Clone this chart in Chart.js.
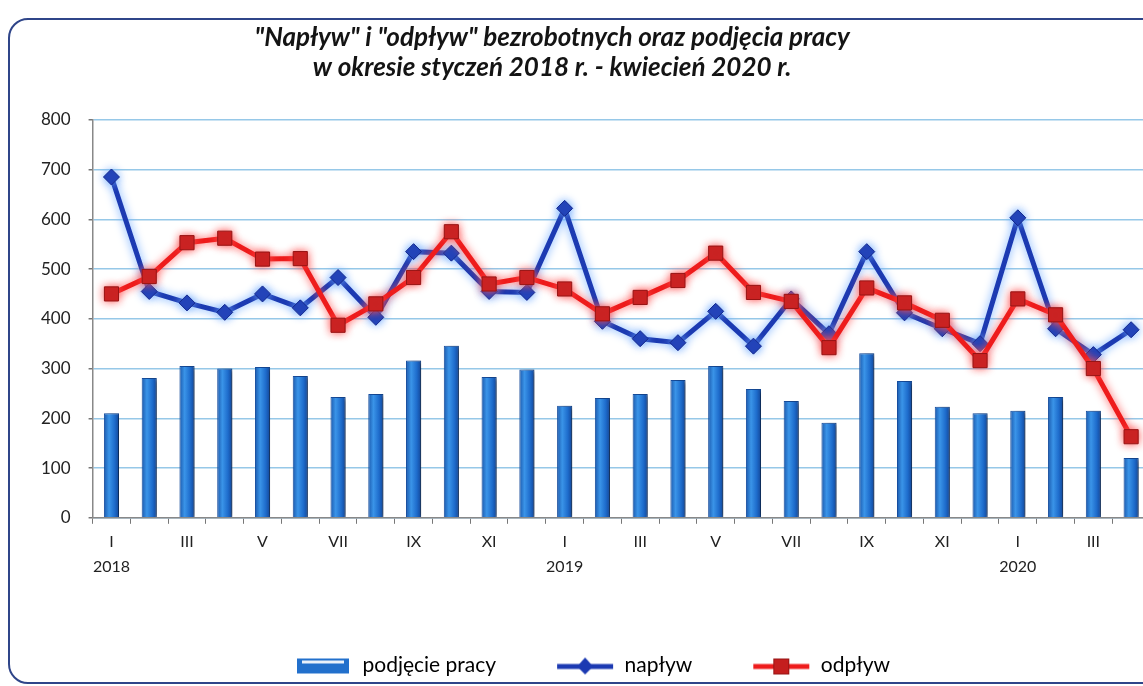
<!DOCTYPE html>
<html>
<head>
<meta charset="utf-8">
<script src="https://cdn.jsdelivr.net/npm/chart.js@4.4.0/dist/chart.umd.min.js"></script>
<style>
  html, body { margin: 0; padding: 0; background: #fff; overflow: hidden; }
  #wrap { position: relative; width: 1143px; height: 686px; overflow: hidden; }
  #frame { position: absolute; left: 8px; top: 18px; width: 1170px; height: 662px;
           border: 2px solid #2f4589; border-radius: 20px; }
  #box { position: absolute; left: 0; top: 0; }
</style>
</head>
<body>
<div id="wrap">
  <div id="frame"></div>
  <div id="box"><canvas id="chart-1" width="1161" height="686"></canvas></div>
</div>
<script>
// miesiące: styczeń 2018 - kwiecień 2020
const categories = [
  'I 2018', 'II 2018', 'III 2018', 'IV 2018', 'V 2018', 'VI 2018',
  'VII 2018', 'VIII 2018', 'IX 2018', 'X 2018', 'XI 2018', 'XII 2018',
  'I 2019', 'II 2019', 'III 2019', 'IV 2019', 'V 2019', 'VI 2019',
  'VII 2019', 'VIII 2019', 'IX 2019', 'X 2019', 'XI 2019', 'XII 2019',
  'I 2020', 'II 2020', 'III 2020', 'IV 2020'
];

// opisy osi X (co drugi miesiąc, rok pod styczniem)
const tickLabels = [
  ['I', '2018'], '', 'III', '', 'V', '', 'VII', '', 'IX', '', 'XI', '',
  ['I', '2019'], '', 'III', '', 'V', '', 'VII', '', 'IX', '', 'XI', '',
  ['I', '2020'], '', 'III', ''
];

const podjeciePracy = [
  210, 281, 305, 300, 303, 285, 243, 249, 316, 346, 283, 298,
  225, 241, 249, 277, 305, 259, 235, 191, 331, 275, 223, 210,
  215, 243, 215, 120
];

const naplyw = [
  685, 455, 432, 413, 450, 422, 483, 403, 535, 532, 455, 453,
  622, 395, 360, 352, 415, 345, 440, 370, 535, 412, 380, 350,
  603, 380, 328, 378
];

const odplyw = [
  450, 485, 553, 562, 520, 521, 387, 430, 483, 575, 470, 483,
  460, 410, 443, 477, 532, 453, 435, 342, 462, 432, 397, 316,
  440, 408, 300, 163
];

const yTicks = [0, 100, 200, 300, 400, 500, 600, 700, 800];

const barBlue = 'rgb(34, 112, 204)';
const lineBlue = 'rgb(28, 58, 178)';
const lineRed = 'rgb(238, 28, 28)';
const squareRed = 'rgb(196, 30, 30)';

// cienie / poświata dla serii
const shadows = [
  { color: 'rgba(0, 0, 0, 0.5)', blur: 5, x: 4, y: 1 },
  { color: 'rgba(110, 170, 255, 1)', blur: 10, x: 0, y: 0 },
  { color: 'rgba(255, 80, 80, 0.95)', blur: 9, x: 0, y: 0 }
];

const glow = {
  id: 'glow',
  beforeDatasetDraw(chart, args) {
    const s = shadows[args.index];
    const ctx = chart.ctx;
    ctx.save();
    ctx.shadowColor = s.color;
    ctx.shadowBlur = s.blur;
    ctx.shadowOffsetX = s.x;
    ctx.shadowOffsetY = s.y;
  },
  afterDatasetDraw(chart) {
    chart.ctx.restore();
  }
};

// walec - gradient poziomy na słupku
function barFill(c) {
  const x = c.chart.scales.x;
  if (c.type !== 'data' || !x) return barBlue;
  const px = x.getPixelForValue(c.dataIndex);
  const g = c.chart.ctx.createLinearGradient(px - 8, 0, px + 8, 0);
  g.addColorStop(0, 'rgb(24, 84, 168)');
  g.addColorStop(0.35, 'rgb(58, 148, 232)');
  g.addColorStop(0.7, 'rgb(30, 108, 204)');
  g.addColorStop(1, 'rgb(18, 66, 146)');
  return g;
}

// ikonki do legendy
function legendIcon(kind) {
  const c = document.createElement('canvas');
  c.width = 58; c.height = 20;
  const g = c.getContext('2d');
  if (kind === 'bar') {
    g.fillStyle = barBlue;
    g.fillRect(3, 3, 52, 15);
    g.fillStyle = 'rgba(255,255,255,0.9)';
    g.fillRect(8, 5, 42, 3);
  } else if (kind === 'blue') {
    g.strokeStyle = lineBlue; g.lineWidth = 5;
    g.beginPath(); g.moveTo(1, 11); g.lineTo(57, 11); g.stroke();
    g.fillStyle = lineBlue;
    g.beginPath(); g.moveTo(29, 2); g.lineTo(37, 11); g.lineTo(29, 19); g.lineTo(21, 11); g.closePath(); g.fill();
  } else {
    g.strokeStyle = lineRed; g.lineWidth = 5;
    g.beginPath(); g.moveTo(1, 11); g.lineTo(57, 11); g.stroke();
    g.fillStyle = squareRed;
    g.fillRect(21, 3, 16, 16);
    g.strokeStyle = 'rgb(150,20,20)'; g.lineWidth = 1;
    g.strokeRect(21.5, 3.5, 15, 15);
  }
  return c;
}
const icons = { bar: legendIcon('bar'), blue: legendIcon('blue'), red: legendIcon('red') };

const pad = '              '; // przesuwa tytuł w lewo

const ctx1 = document.getElementById('chart-1').getContext('2d');
const myChart1 = new Chart(ctx1, {
  type: 'bar',
  data: {
    labels: categories,
    datasets: [
      {
        type: 'bar',
        label: 'podjęcie pracy',
        data: podjeciePracy,
        backgroundColor: barFill,
        borderColor: 'rgb(22, 78, 160)',
        borderWidth: 1,
        barPercentage: 0.4,
        categoryPercentage: 1,
        order: 3
      },
      {
        type: 'line',
        label: 'napływ',
        data: naplyw,
        borderColor: lineBlue,
        backgroundColor: lineBlue,
        borderWidth: 5,
        pointStyle: 'rectRot',
        pointRadius: 8,
        pointBorderWidth: 1,
        pointBorderColor: 'rgb(20, 40, 140)',
        tension: 0,
        order: 2
      },
      {
        type: 'line',
        label: 'odpływ',
        data: odplyw,
        borderColor: lineRed,
        backgroundColor: squareRed,
        borderWidth: 5,
        pointStyle: 'rect',
        pointRadius: 10,
        pointBorderWidth: 1,
        pointBorderColor: 'rgb(150, 20, 20)',
        tension: 0,
        order: 1
      }
    ]
  },
  options: {
    responsive: false,
    animation: false,
    layout: { padding: { left: 23, right: 0, top: 0, bottom: 0 } },
    plugins: {
      title: {
        display: true,
        text: ['"Napływ" i "odpływ" bezrobotnych oraz podjęcia pracy' + pad,
               'w okresie styczeń 2018 r. - kwiecień 2020 r.' + pad],
        color: '#141414',
        font: { family: 'Lato', size: 26, weight: 'bold', style: 'italic', lineHeight: 1.15 },
        padding: { top: 23, bottom: 37 }
      },
      legend: {
        position: 'bottom',
        labels: {
          usePointStyle: true,
          pointStyleWidth: 58,
          boxHeight: 20,
          padding: 60,
          color: '#111',
          font: { family: 'Lato', size: 21 },
          generateLabels: () => [
            { text: 'podjęcie pracy', pointStyle: icons.bar, fillStyle: 'transparent', strokeStyle: 'transparent', lineWidth: 0, datasetIndex: 0, hidden: false },
            { text: 'napływ', pointStyle: icons.blue, fillStyle: 'transparent', strokeStyle: 'transparent', lineWidth: 0, datasetIndex: 1, hidden: false },
            { text: 'odpływ', pointStyle: icons.red, fillStyle: 'transparent', strokeStyle: 'transparent', lineWidth: 0, datasetIndex: 2, hidden: false }
          ]
        }
      },
      tooltip: { enabled: false }
    },
    scales: {
      x: {
        offset: true,
        grid: { offset: true, drawOnChartArea: false, drawTicks: true, tickLength: 6, tickColor: '#777' },
        border: { color: '#888', width: 1.5 },
        title: { display: true, text: '', font: { size: 10, lineHeight: 1 }, padding: { top: 0, bottom: 0 } },
        ticks: {
          autoSkip: false,
          maxRotation: 0,
          padding: 5,
          color: '#222',
          font: { family: 'Lato', size: 16, lineHeight: 1.6 },
          callback: (v, i) => tickLabels[i]
        }
      },
      y: {
        min: 0,
        max: 800,
        afterBuildTicks: (axis) => { axis.ticks = yTicks.map(v => ({ value: v })); },
        grid: { color: 'rgb(150, 200, 232)', lineWidth: 1.5, tickLength: 4, tickColor: '#777' },
        border: { color: '#888', width: 1.5 },
        ticks: {
          padding: 18,
          color: '#222',
          font: { family: 'Lato', size: 17 }
        }
      }
    }
  },
  plugins: [glow]
});
</script>
</body>
</html>
